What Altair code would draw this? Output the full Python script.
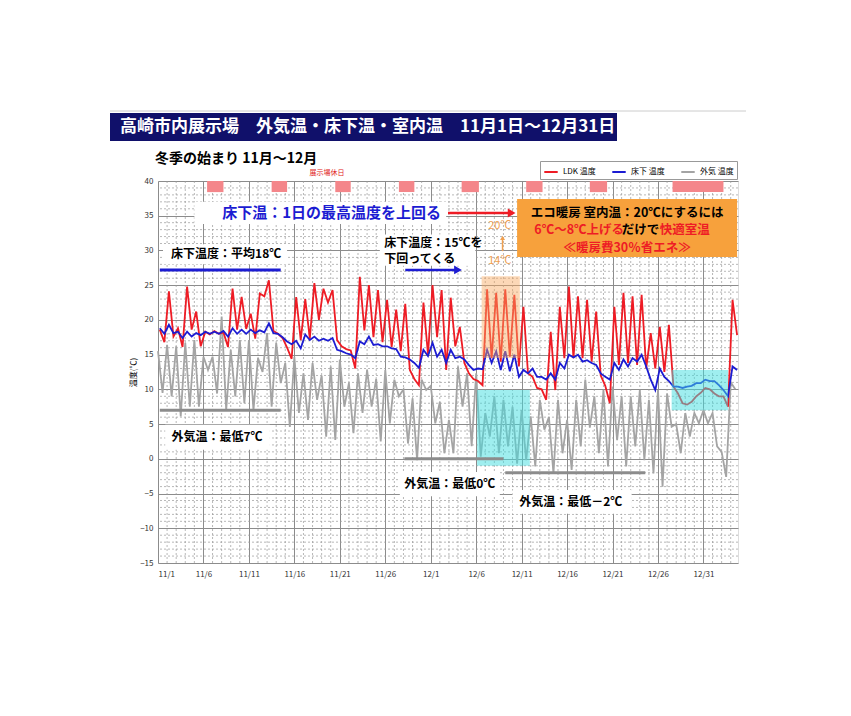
import json
import altair as alt
import pandas as pd

# ---------------- data ----------------
days = list(range(64))  # day 0 = 11/1
ldk_peak = [18.6, 24.1, 18.8, 24.8, 21.2, 18.3, 18.4, 18.2, 24.5, 23.3,
            20.9, 23.8, 25.7, 18.0, 16.0, 23.3, 23.0, 25.3, 24.5, 24.3,
            16.2, 15.6, 26.2, 25.0, 24.3, 22.9, 21.5, 22.3, 11.5, 22.5,
            25.0, 24.3, 23.2, 19.0, 12.3, 11.2, 24.4, 23.9, 24.4, 23.6,
            21.9, 11.8, 10.0, 18.3, 21.9, 24.8, 23.4, 22.9, 21.2, 10.5,
            21.9, 23.9, 23.4, 23.6, 18.1, 19.0, 19.3, 9.4, 7.8, 9.0,
            10.2, 9.4, 9.0, 22.9]
ldk_low = [16.8, 17.6, 16.1, 18.6, 16.2, 17.9, 18.0, 16.1, 18.6, 18.7,
           17.3, 23.4, 18.4, 17.4, 14.4, 17.1, 17.3, 20.0, 22.5, 17.1,
           15.8, 13.0, 18.5, 17.5, 16.8, 16.1, 15.5, 12.8, 10.6, 15.0,
           17.5, 12.8, 16.2, 13.8, 11.5, 10.6, 14.5, 14.0, 14.7, 13.3,
           12.3, 10.2, 8.5, 9.9, 14.5, 14.5, 14.5, 14.0, 12.0, 8.0,
           13.5, 13.8, 13.5, 13.0, 13.0, 12.5, 10.4, 8.0, 8.2, 9.5,
           10.0, 9.0, 7.5, 17.8]
floor_peak = [18.8, 19.3, 18.3, 18.3, 18.1, 18.3, 18.3, 18.4, 18.8, 18.6,
              18.6, 18.5, 19.5, 18.0, 16.9, 17.0, 17.9, 17.6, 17.3, 17.4,
              15.5, 15.0, 16.9, 17.6, 16.5, 16.2, 15.8, 14.6, 13.8, 15.7,
              16.7, 15.7, 15.7, 14.7, 13.5, 13.0, 15.7, 15.5, 15.5, 15.0,
              12.8, 13.0, 11.8, 12.3, 13.8, 15.0, 15.0, 14.2, 13.5, 11.8,
              13.8, 14.3, 14.5, 15.0, 11.4, 13.0, 11.2, 10.4, 10.4, 10.9,
              11.4, 11.2, 9.9, 13.3]
floor_low = [18.0, 18.1, 17.4, 17.6, 17.8, 18.0, 18.0, 17.6, 18.0, 18.0,
             18.1, 18.2, 18.1, 17.5, 16.5, 15.9, 17.1, 17.0, 17.0, 15.7,
             15.2, 14.5, 16.5, 16.4, 16.2, 15.9, 14.7, 14.3, 13.1, 14.8,
             14.7, 13.8, 14.5, 14.3, 12.8, 12.9, 13.8, 12.8, 12.6, 11.8,
             12.3, 11.8, 11.4, 11.4, 13.0, 14.6, 14.0, 13.8, 12.3, 11.4,
             12.8, 13.3, 14.0, 13.3, 9.9, 11.8, 10.4, 10.2, 10.5, 10.9,
             11.2, 10.6, 9.0, 12.8]
out_max = [15.5, 16.4, 16.2, 16.7, 17.1, 14.7, 14.7, 20.5, 15.7, 17.1,
           17.1, 14.5, 18.1, 16.7, 13.8, 14.7, 12.3, 13.8, 12.0, 13.3,
           14.3, 10.9, 12.3, 12.8, 11.5, 12.8, 11.4, 10.0, 8.7, 11.4,
           10.5, 8.2, 5.6, 13.3, 12.3, 12.3, 6.6, 9.0, 8.5, 7.5,
           7.0, 6.1, 8.5, 6.0, 8.5, 5.6, 8.5, 11.4, 9.0, 9.9,
           10.4, 9.0, 9.0, 9.9, 8.5, 9.9, 9.4, 5.0, 6.6, 6.6,
           7.0, 6.6, 1.0, 11.0]
out_min = [9.5, 9.0, 6.1, 7.5, 7.5, 12.8, 9.4, 7.0, 9.0, 8.0,
           7.0, 12.5, 7.5, 10.9, 4.6, 6.6, 5.6, 8.5, 3.2, 2.7,
           7.5, 3.7, 6.6, 7.5, 2.5, 5.1, 9.0, 2.2, -0.2, 9.9,
           5.1, 0.8, 0.8, 7.5, 1.8, 0.3, 3.2, 0.8, 1.8, -0.7,
           -0.2, -1.1, 4.2, -2.1, 0.8, -1.6, 1.8, 4.5, 0.8, -1.1,
           2.7, -1.1, 1.8, -0.2, -2.1, -4.0, 4.6, 0.8, 3.2, 5.1,
           5.1, 1.8, -2.6, 10.0]

tick_days = [0, 5, 10, 15, 20, 25, 30, 35, 40, 45, 50, 55, 60]
tick_labels = ["11/1", "11/6", "11/11", "11/16", "11/21", "11/26", "12/1",
               "12/6", "12/11", "12/16", "12/21", "12/26", "12/31"]
y_ticks = [-15, -10, -5, 0, 5, 10, 15, 20, 25, 30, 35, 40]
hol_start = [5.4, 12.5, 19.5, 26.5, 33.4, 40.5, 47.5, 56.6]
hol_end = [7.2, 14.2, 21.2, 28.2, 35.3, 42.3, 49.4, 62.2]

series_names = ["LDK 温度", "床下 温度", "外気 温度"]
series_colors = ["#ee1c25", "#1c1cd2", "#a4a4a4"]

FONT = "Noto Sans CJK JP"
X_DOM = [0, 63.8]
Y_DOM = [-15, 40]

# ---------------- tables ----------------
rows = []
for d in days:
    rows.append((d + 0.2, series_names[0], ldk_peak[d]))
    rows.append((d + 0.7, series_names[0], ldk_low[d]))
    rows.append((d + 0.2, series_names[1], floor_peak[d]))
    rows.append((d + 0.7, series_names[1], floor_low[d]))
    rows.append((d + 0.0, series_names[2], out_max[d]))
    rows.append((d + 0.5, series_names[2], out_min[d]))
df = pd.DataFrame(rows, columns=["t", "series", "temp"])

xs = alt.Scale(domain=X_DOM, nice=False, zero=False)
ys = alt.Scale(domain=Y_DOM, nice=False, zero=False)

label_expr = json.dumps(tick_labels) + "[round(datum.value / 5)]"
x_axis = alt.Axis(values=tick_days, labelExpr=label_expr, title=None, grid=True,
                  gridColor="#8c8c8c", gridWidth=1, ticks=False, domain=False,
                  labelFontSize=8, labelColor="#333", labelPadding=7,
                  labelFont=FONT, labelOverlap=False)
y_axis = alt.Axis(values=y_ticks, title="温度(℃)", grid=True, gridColor="#8c8c8c",
                  gridWidth=1, ticks=False, domain=False, labelFontSize=8,
                  labelColor="#333", labelPadding=5, titleFontSize=8,
                  titleFontWeight="normal", titleFont=FONT, titlePadding=2,
                  labelFont=FONT, labelOverlap=False)

color = alt.Color("series:N",
                  scale=alt.Scale(domain=series_names, range=series_colors),
                  legend=alt.Legend(orient="none", legendX=382, legendY=-20,
                                    direction="horizontal", title=None,
                                    symbolType="stroke", symbolStrokeWidth=2,
                                    symbolSize=180, labelFontSize=8,
                                    labelFont=FONT, strokeColor="#999",
                                    fillColor="white", padding=3,
                                    columnPadding=12, labelLimit=100))


def X(field):
    return alt.X(field, scale=xs, axis=x_axis)


def Y(field):
    return alt.Y(field, scale=ys, axis=y_axis)


base = alt.Chart(df)


def series_layer(name):
    return base.transform_filter(alt.datum.series == name).mark_line(
        strokeWidth=1.8, interpolate="linear").encode(
        x=X("t:Q"), y=Y("temp:Q"), color=color)


# minor dashed grid
ygrid = pd.DataFrame({"v": [v for v in range(-15, 41) if v % 5]})
xgrid = pd.DataFrame({"v": [v for v in range(1, 64) if v % 5]})
minor_y = alt.Chart(ygrid).mark_rule(color="#9a9a9a", strokeWidth=0.7,
                                     strokeDash=[2, 2]).encode(y=Y("v:Q"))
minor_x = alt.Chart(xgrid).mark_rule(color="#9a9a9a", strokeWidth=0.7,
                                     strokeDash=[2, 2]).encode(x=X("v:Q"))

# holidays
hol = pd.DataFrame({"s": hol_start, "e": hol_end, "y1": [40] * 8, "y2": [38.4] * 8})
hol_layer = alt.Chart(hol).mark_rect(color="#f4868a").encode(
    x=X("s:Q"), x2="e:Q", y=Y("y1:Q"), y2="y2:Q")


def rect_layer(x1, x2, y1, y2, fill, opacity=1.0):
    d = pd.DataFrame({"x1": [x1], "x2": [x2], "y1": [y1], "y2": [y2]})
    return alt.Chart(d).mark_rect(color=fill, opacity=opacity).encode(
        x=X("x1:Q"), x2="x2:Q", y=Y("y1:Q"), y2="y2:Q")


def hline(x1, x2, yv, col, w=3):
    d = pd.DataFrame({"x1": [x1], "x2": [x2], "y": [yv]})
    return alt.Chart(d).mark_rule(color=col, strokeWidth=w).encode(
        x=X("x1:Q"), x2="x2:Q", y=Y("y:Q"))


def vline(xv, y1, y2, col, w=2):
    d = pd.DataFrame({"x": [xv], "y1": [y1], "y2": [y2]})
    return alt.Chart(d).mark_rule(color=col, strokeWidth=w).encode(
        x=X("x:Q"), y=Y("y1:Q"), y2="y2:Q")


def head(xv, yv, col, shape, size=70):
    d = pd.DataFrame({"x": [xv], "y": [yv]})
    return alt.Chart(d).mark_point(shape=shape, filled=True, color=col,
                                   size=size, opacity=1).encode(
        x=X("x:Q"), y=Y("y:Q"))


def text(xv, yv, s, size=12, col="black", weight="bold", align="center"):
    d = pd.DataFrame({"x": [xv], "y": [yv], "s": [s]})
    return alt.Chart(d).mark_text(font=FONT, fontSize=size, color=col,
                                  fontWeight=weight, align=align,
                                  baseline="middle").encode(
        x=X("x:Q"), y=Y("y:Q"), text="s:N")


def ptext(px, py, s, size, col, weight="bold", align="left"):
    d = pd.DataFrame({"s": [s]})
    return alt.Chart(d).mark_text(font=FONT, fontSize=size, color=col,
                                  fontWeight=weight, align=align,
                                  baseline="middle").encode(
        x=alt.value(px), y=alt.value(py), text="s:N")


one = pd.DataFrame({"a": [0]})
title_bar = alt.Chart(one).mark_rect(color="#10106a").encode(
    x=alt.value(-48), x2=alt.value(459), y=alt.value(-68), y2=alt.value(-40))
top_line = alt.Chart(one).mark_rule(color="#cccccc", strokeWidth=1).encode(
    x=alt.value(-48), x2=alt.value(588), y=alt.value(-70))

RED = "#ee1c25"
BLUE = "#1c1cd2"
ORANGE_T = "#f0a050"

layers = [
    minor_y, minor_x, hol_layer,
    series_layer(series_names[2]),
    series_layer(series_names[0]),
    series_layer(series_names[1]),
    # translucent highlight boxes
    rect_layer(35.6, 39.8, 26.3, 14.5, "#f8a860", 0.45),
    rect_layer(35.1, 40.9, 9.9, -1.0, "#40dde0", 0.5),
    rect_layer(56.5, 62.7, 12.8, 7.0, "#40dde0", 0.5),
    # reference lines
    hline(0.2, 13.5, 27.2, BLUE, 3),
    hline(0.2, 13.5, 7.0, "#8c8c8c", 3),
    hline(27.1, 38.0, 0.0, "#8c8c8c", 3),
    hline(38.2, 53.6, -2.0, "#8c8c8c", 3),
    # white label backgrounds
    rect_layer(4.0, 31.7, 37.0, 33.8, "white"),
    rect_layer(0.55, 14.2, 30.9, 28.0, "white"),
    rect_layer(24.4, 34.9, 32.3, 27.8, "white"),
    rect_layer(0.8, 12.3, 4.9, 1.3, "white"),
    rect_layer(26.6, 37.6, -1.9, -5.4, "white"),
    rect_layer(39.0, 52.1, -4.5, -7.9, "white"),
    # arrows
    hline(31.9, 38.6, 35.4, RED, 2.5),
    head(38.9, 35.4, RED, "triangle-right", 80),
    hline(27.2, 32.7, 27.2, BLUE, 2.5),
    head(33.0, 27.2, BLUE, "triangle-right", 80),
    vline(37.9, 29.9, 31.6, ORANGE_T, 1.5),
    head(37.9, 31.8, ORANGE_T, "triangle-up", 25),
    # texts
    text(19.1, 35.4, "床下温：1日の最高温度を上回る", 15, BLUE),
    text(7.5, 29.5, "床下温度：平均18℃", 12),
    text(24.9, 31.1, "床下温度：15℃を", 12, align="left"),
    text(24.9, 28.8, "下回ってくる", 12, align="left"),
    text(37.6, 33.5, "20℃", 11, ORANGE_T, "normal"),
    text(37.6, 28.5, "14℃", 11, ORANGE_T, "normal"),
    text(6.5, 3.1, "外気温：最低7℃", 12),
    text(32.1, -3.6, "外気温：最低0℃", 12),
    text(45.4, -6.2, "外気温：最低－2℃", 12),
    # orange box
    rect_layer(39.5, 63.7, 37.4, 29.05, "#f7a13c"),
    text(51.6, 35.4, "エコ暖房 室内温：20℃にするには", 12.5),
    text(41.4, 32.9, "6℃～8℃上げる", 12.5, RED, align="left"),
    text(51.0, 32.9, "だけで", 12.5, align="left"),
    text(55.2, 32.9, "快適室温", 12.5, RED, align="left"),
    text(51.6, 30.4, "≪暖房費30％省エネ≫", 12.5, RED),
    # header
    top_line, title_bar,
    ptext(-38, -54, "高崎市内展示場　外気温・床下温・室内温　11月1日～12月31日", 17, "white"),
    ptext(-3, -22, "冬季の始まり 11月～12月", 14, "black"),
    ptext(169, -8, "展示場休日", 7, "#e02020", "normal", "center"),
]

chart = alt.layer(*layers).properties(
    width=580, height=382,
    autosize=alt.AutoSizeParams(type="none"),
    padding={"left": 150, "top": 173, "right": 105, "bottom": 140},
).configure_view(stroke="#777777", strokeWidth=1).configure(font=FONT)

chart.save("out.html", embed_options={"renderer": "svg", "actions": False})
